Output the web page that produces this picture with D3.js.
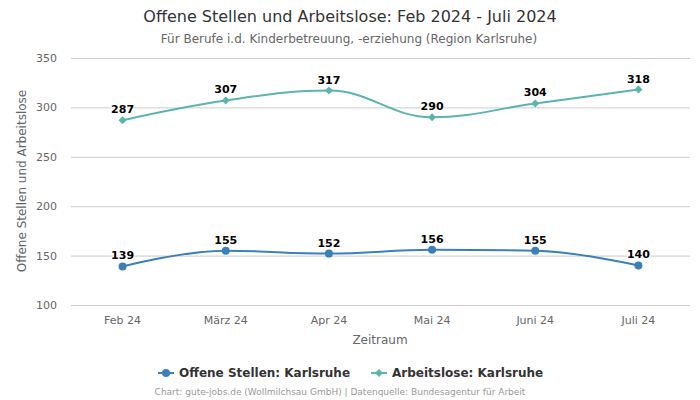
<!DOCTYPE html>
<html><head><meta charset="utf-8">
<script src="https://cdn.jsdelivr.net/npm/d3@7"></script>
<style>body{margin:0;background:#fff}svg{font-family:"DejaVu Sans",Verdana,sans-serif}</style>
</head><body><svg id="c" width="700" height="400"></svg>
<script>
const categories = ["Feb 24","März 24","Apr 24","Mai 24","Juni 24","Juli 24"];
const offeneStellen = [139,155,152,156,155,140];
const arbeitslose = [287,307,317,290,304,318];
const yTicks = [100,150,200,250,300,350];
const seriesNames = ["Offene Stellen: Karlsruhe","Arbeitslose: Karlsruhe"];

const svg = d3.select("#c");
const x = d3.scaleBand().domain(categories).range([71,690]);
const y = d3.scaleLinear().domain([100,350]).range([305,58]);
const cx = d => x(d)+x.bandwidth()/2;

svg.append("text").attr("x",350).attr("y",22).attr("text-anchor","middle").attr("font-size",16).attr("fill","#333").text("Offene Stellen und Arbeitslose: Feb 2024 - Juli 2024");
svg.append("text").attr("x",349).attr("y",43).attr("text-anchor","middle").attr("font-size",12).attr("fill","#666").text("Für Berufe i.d. Kinderbetreuung, -erziehung (Region Karlsruhe)");

// grid
svg.append("g").selectAll("line").data(yTicks).join("line")
  .attr("x1",71).attr("x2",690).attr("y1",d=>y(d)+0.5).attr("y2",d=>y(d)+0.5).attr("stroke","#ccc");
// y axis
const ya = svg.append("g").attr("transform","translate(71,0)").call(d3.axisLeft(y).tickValues(yTicks).tickSize(0).tickPadding(14));
ya.select(".domain").remove();
ya.selectAll("text").attr("font-size",11).attr("fill","#666").attr("font-family","DejaVu Sans");
// x axis
const xa = svg.append("g").attr("transform","translate(0,305)").call(d3.axisBottom(x).tickSize(0).tickPadding(11));
xa.select(".domain").remove();
xa.selectAll("text").attr("font-size",11).attr("fill","#666").attr("font-family","DejaVu Sans");

svg.append("text").attr("x",380).attr("y",344).attr("text-anchor","middle").attr("font-size",12).attr("fill","#666").text("Zeitraum");
svg.append("text").attr("transform","translate(26,181) rotate(-90)").attr("text-anchor","middle").attr("font-size",12).attr("fill","#666").text("Offene Stellen und Arbeitslose");

function splinePath(vals){
  const pts = vals.map((v,i)=>({x:cx(categories[i]),y:y(v)}));
  const s=1.5,den=2.5;
  pts.forEach((p,i)=>{
    if(i>0 && i<pts.length-1){
      const l=pts[i-1],n=pts[i+1];
      let lx=(s*p.x+l.x)/den, ly=(s*p.y+l.y)/den, rx=(s*p.x+n.x)/den, ry=(s*p.y+n.y)/den;
      const corr=((ry-ly)*(rx-p.x))/(rx-lx)+p.y-ry;
      ly+=corr; ry+=corr;
      if(ly>l.y&&ly>p.y){ly=Math.max(l.y,p.y);ry=2*p.y-ly;}
      else if(ly<l.y&&ly<p.y){ly=Math.min(l.y,p.y);ry=2*p.y-ly;}
      if(ry>n.y&&ry>p.y){ry=Math.max(n.y,p.y);ly=2*p.y-ry;}
      else if(ry<n.y&&ry<p.y){ry=Math.min(n.y,p.y);ly=2*p.y-ry;}
      p.lx=lx;p.ly=ly;p.rx=rx;p.ry=ry;
    }
  });
  let d=`M${pts[0].x},${pts[0].y}`;
  for(let i=1;i<pts.length;i++){
    const a=pts[i-1],b=pts[i];
    d+=`C${a.rx??a.x},${a.ry??a.y},${b.lx??b.x},${b.ly??b.y},${b.x},${b.y}`;
  }
  return d;
}

const colors=["#3b80b9","#5cb5ac"];
[offeneStellen,arbeitslose].forEach((vals,si)=>{
  const g=svg.append("g");
  g.append("path").attr("d",splinePath(vals)).attr("fill","none").attr("stroke",colors[si]).attr("stroke-width",2);
  vals.forEach((v,i)=>{
    const px=cx(categories[i]),py=y(v);
    if(si===0) g.append("circle").attr("cx",px).attr("cy",py).attr("r",4).attr("fill",colors[si]);
    else g.append("path").attr("d",`M${px},${py-4}L${px+4},${py}L${px},${py+4}L${px-4},${py}Z`).attr("fill",colors[si]);
    g.append("text").attr("x",px).attr("y",py-7).attr("text-anchor","middle").attr("font-size",11).attr("font-weight","bold").attr("fill","#000")
      .attr("stroke","#fff").attr("stroke-width",2).attr("paint-order","stroke").text(v);
  });
});

// legend
const lg=svg.append("g");
const items=[{x:158,name:seriesNames[0],c:colors[0],m:"c"},{x:371,name:seriesNames[1],c:colors[1],m:"d"}];
items.forEach(it=>{
  lg.append("line").attr("x1",it.x).attr("x2",it.x+16).attr("y1",373).attr("y2",373).attr("stroke",it.c).attr("stroke-width",2);
  if(it.m==="c") lg.append("circle").attr("cx",it.x+8).attr("cy",373).attr("r",4).attr("fill",it.c);
  else lg.append("path").attr("d",`M${it.x+8},369L${it.x+12},373L${it.x+8},377L${it.x+4},373Z`).attr("fill",it.c);
  lg.append("text").attr("x",it.x+21).attr("y",377).attr("font-size",12).attr("font-weight","bold").attr("fill","#333").text(it.name);
});
svg.append("text").attr("x",340).attr("y",395).attr("text-anchor","middle").attr("font-size",9).attr("fill","#999").text("Chart: gute-jobs.de (Wollmilchsau GmbH) | Datenquelle: Bundesagentur für Arbeit");
</script></body></html>
